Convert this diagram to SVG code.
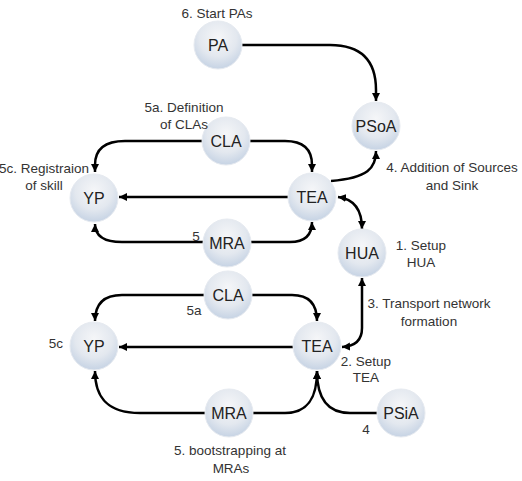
<svg xmlns="http://www.w3.org/2000/svg" width="522" height="481" viewBox="0 0 522 481">
<defs>
<radialGradient id="g" cx="50%" cy="35%" r="65%">
<stop offset="0" stop-color="#f5f6f8"/>
<stop offset="0.6" stop-color="#e3e8ef"/>
<stop offset="1" stop-color="#c6d3e4"/>
</radialGradient>
<marker id="ah" markerUnits="userSpaceOnUse" markerWidth="9" markerHeight="9" refX="8" refY="4.5" orient="auto-start-reverse">
<path d="M0,0.5 L8,4.5 L0,8.5 z" fill="#000"/>
</marker>
</defs>
<style>
.n circle{fill:url(#g);stroke:#e6eaf0;stroke-width:1}
.n text{font-family:"Liberation Sans",Arial,sans-serif;font-size:16px;fill:#222;text-anchor:middle;dominant-baseline:central}
.l{font-family:"Liberation Sans",Arial,sans-serif;font-size:13.5px;fill:#333;text-anchor:middle;dominant-baseline:central}
#edges path{fill:none;stroke:#000;stroke-width:2.5}
.e{marker-end:url(#ah)}
.d{marker-start:url(#ah);marker-end:url(#ah)}
</style>
<rect width="522" height="481" fill="#fff"/>
<g id="edges">
<path class="e" d="M242,45 L330,45 Q376,45 376,90 L376,101"/>
<path class="e" d="M331,181 C368,178 376,168 376,151"/>
<path class="e" d="M250,141 L285,141 Q312,141 312,165 L312,172"/>
<path class="e" d="M202,141 L125,141 Q95,141 95,165 L95,172"/>
<path class="e" d="M288,197 L119,197"/>
<path class="e" d="M203,242 L122,242 Q95,242 95,224"/>
<path class="e" d="M251,242 L290,242 Q312,242 312,222"/>
<path class="d" d="M338,197 Q362,200 362,229"/>
<path class="d" d="M362,278 L362,328 Q362,346 342,347"/>
<path class="e" d="M252,295 L292,295 Q317,295 317,321"/>
<path class="e" d="M204,295 L122,295 Q95,295 95,321"/>
<path class="e" d="M293,347 L119,347"/>
<path class="e" d="M205,413 L140,413 C105,413 95,395 95,371"/>
<path class="e" d="M253,413 L285,413 C310,413 317,395 317,371"/>
<path class="e" d="M377,413 L350,413 C325,413 317,395 317,371"/>
</g>
<g id="PA" class="n"><circle cx="218" cy="45" r="24"/><text x="218" y="45">PA</text></g>
<g id="PSoA" class="n"><circle cx="376" cy="126" r="24"/><text x="376" y="126">PSoA</text></g>
<g id="CLA1" class="n"><circle cx="226" cy="141" r="24"/><text x="226" y="141">CLA</text></g>
<g id="YP1" class="n"><circle cx="94" cy="198" r="24"/><text x="94" y="198">YP</text></g>
<g id="TEA1" class="n"><circle cx="312" cy="197" r="24"/><text x="312" y="197">TEA</text></g>
<g id="MRA1" class="n"><circle cx="227" cy="243" r="24"/><text x="227" y="243">MRA</text></g>
<g id="HUA" class="n"><circle cx="362" cy="253" r="24"/><text x="362" y="253">HUA</text></g>
<g id="CLA2" class="n"><circle cx="228" cy="295" r="24"/><text x="228" y="295">CLA</text></g>
<g id="YP2" class="n"><circle cx="94" cy="346" r="24"/><text x="94" y="346">YP</text></g>
<g id="TEA2" class="n"><circle cx="317" cy="346" r="24"/><text x="317" y="346">TEA</text></g>
<g id="MRA2" class="n"><circle cx="229" cy="413" r="24"/><text x="229" y="413">MRA</text></g>
<g id="PSiA" class="n"><circle cx="401" cy="413" r="24"/><text x="401" y="413">PSiA</text></g>
<g id="labels">
<text class="l" x="217" y="13">6. Start PAs</text>
<text class="l" x="184" y="107">5a. Definition</text>
<text class="l" x="184" y="124">of CLAs</text>
<text class="l" x="44" y="168">5c. Registraion</text>
<text class="l" x="44" y="185">of skill</text>
<text class="l" x="196" y="236">5</text>
<text class="l" x="452" y="167">4. Addition of Sources</text>
<text class="l" x="452" y="185">and Sink</text>
<text class="l" x="421" y="245">1. Setup</text>
<text class="l" x="421" y="262">HUA</text>
<text class="l" x="429" y="303">3. Transport network</text>
<text class="l" x="429" y="321">formation</text>
<text class="l" x="366" y="361">2. Setup</text>
<text class="l" x="366" y="377">TEA</text>
<text class="l" x="366" y="429">4</text>
<text class="l" x="194" y="310">5a</text>
<text class="l" x="56" y="343">5c</text>
<text class="l" x="230" y="450">5. bootstrapping at</text>
<text class="l" x="231" y="468">MRAs</text>
</g>
</svg>
